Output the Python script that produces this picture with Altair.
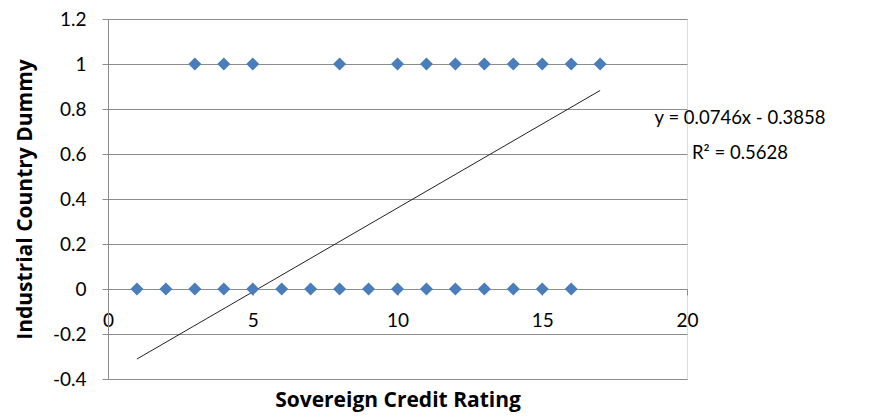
import altair as alt
import pandas as pd

# data
x_one = [3, 4, 5, 8, 10, 11, 12, 13, 14, 15, 16, 17]
x_zero = [1, 2, 3, 4, 5, 6, 7, 8, 9, 10, 11, 12, 13, 14, 15, 16]
slope = 0.0746
intercept = -0.3858
trend_x = [1, 17]
eq_lines = ["y = 0.0746x - 0.3858", "R² = 0.5628"]
y_ticks = [-0.4, -0.2, 0, 0.2, 0.4, 0.6, 0.8, 1, 1.2]
x_ticks = [0, 5, 10, 15, 20]

pts = pd.DataFrame({
    "x": x_one + x_zero,
    "y": [1] * len(x_one) + [0] * len(x_zero),
})
trend = pd.DataFrame({"x": trend_x, "y": [slope * v + intercept for v in trend_x]})
eq = pd.DataFrame({"t": eq_lines, "row": [0, 1]})

FONT = "Lato"
TFONT = "Open Sans"
GRID = "#8c8c8c"

xs = alt.Scale(domain=[0, 20], nice=False, zero=False)
ys = alt.Scale(domain=[-0.4, 1.2], nice=False, zero=False)

x_axis = alt.Axis(
    values=x_ticks, offset=-90, grid=False, domainColor=GRID, tickColor=GRID,
    tickSize=6, labelPadding=16, labelFontSize=19, labelColor="#000", labelFont=FONT,
    labelFlush=False,
    title="Sovereign Credit Rating", titleFont=TFONT, titleFontSize=21,
    titleFontWeight="bold", titleColor="#000", titleY=100,
)
y_axis = alt.Axis(
    values=y_ticks, grid=True, gridColor=GRID, domainColor=GRID, tickColor=GRID,
    tickSize=6, labelPadding=16, labelFontSize=19, labelColor="#000", labelFont=FONT,
    labelFlush=False,
    labelExpr="datum.value < 0 ? '-' + format(-datum.value, '') : format(datum.value, '')",
    title="Industrial Country Dummy", titleFont=TFONT, titleFontSize=21,
    titleFontWeight="bold", titleColor="#000", titleX=-73,
)

points = alt.Chart(pts).mark_point(
    shape="diamond", filled=True, size=170, color="#4A7EBB", opacity=1
).encode(
    x=alt.X("x:Q", scale=xs, axis=x_axis),
    y=alt.Y("y:Q", scale=ys, axis=y_axis),
)

line = alt.Chart(trend).mark_line(color="#222222", strokeWidth=1).encode(
    x=alt.X("x:Q", scale=xs),
    y=alt.Y("y:Q", scale=ys),
)

text1 = alt.Chart(eq).transform_filter("datum.row == 0").mark_text(
    font=FONT, fontSize=18.5, color="#000", align="center", baseline="middle"
).encode(text="t:N", x=alt.value(632), y=alt.value(99))

text2 = alt.Chart(eq).transform_filter("datum.row == 1").mark_text(
    font=FONT, fontSize=18.5, color="#000", align="center", baseline="middle"
).encode(text="t:N", x=alt.value(632), y=alt.value(134))

chart = alt.layer(line, points, text1, text2).properties(
    width=579, height=360,
    autosize=alt.AutoSizeParams(type="none"),
    padding={"left": 100, "top": 11, "right": 187, "bottom": 40},
).configure_view(stroke=None).configure(background="white")

chart.save("out.html", embed_options={"renderer": "svg", "actions": False})
